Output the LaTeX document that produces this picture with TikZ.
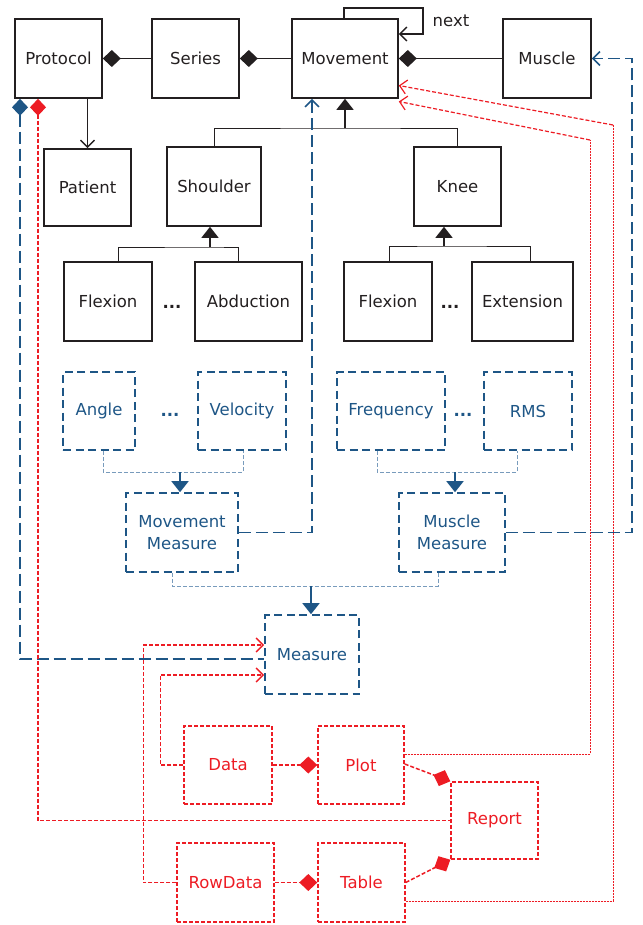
\documentclass[tikz,border=0pt]{standalone}
\usepackage{fontspec}
\setmainfont{DejaVu Sans}
\usetikzlibrary{arrows.meta}

\definecolor{umlblack}{RGB}{35,31,32}
\definecolor{measblue}{RGB}{30,86,134}
\definecolor{lightblue}{RGB}{120,155,188}
\definecolor{repred}{RGB}{237,28,36}

\tikzset{
  cls/.style={draw=umlblack, line width=1.6pt, text=umlblack, minimum width=87pt, minimum height=79pt, inner sep=2pt,
    font=\fontsize{16.5}{22}\selectfont},
  meas/.style={draw=measblue, line width=1.6pt, dash pattern=on 8pt off 4.5pt, text=measblue, minimum width=88pt,
    minimum height=78pt, inner sep=2pt, align=center, font=\fontsize{16.5}{22}\selectfont},
  rep/.style={draw=repred, line width=1.4pt, dash pattern=on 4pt off 2pt, text=repred, minimum width=87pt,
    minimum height=78pt, inner sep=2pt, font=\fontsize{16.5}{22}\selectfont},
  agg/.style={umlblack, line width=1.4pt, {Diamond[length=18pt,width=17pt]}-},
  inh/.style={umlblack, line width=0.9pt},
  inhtip/.style={umlblack, line width=1.4pt, -{Triangle[length=11pt,width=17pt]}},
  open/.style={-{Straight Barb[length=7pt,width=14pt]}},
  mlink/.style={measblue, line width=1.6pt, dash pattern=on 12pt off 5pt},
  mgroup/.style={lightblue, line width=1pt, dash pattern=on 4pt off 2pt},
  mtip/.style={measblue, line width=1.6pt, -{Triangle[length=11pt,width=17pt]}},
  rlink/.style={repred, line width=1.5pt, dash pattern=on 4pt off 2pt},
  tlink/.style={repred, line width=0.8pt, dash pattern=on 2pt off 1pt},
  dotsnode/.style={font=\fontsize{16.5}{22}\selectfont\bfseries, inner sep=0pt}
}

\begin{document}
\begin{tikzpicture}[x=1pt, y=-1pt]
    \useasboundingbox (0,0) rectangle (642,925);

    % Klassen bovenaan
    \node[cls] (Protocol) at (58.5,58.5) {Protocol};
    \node[cls] (Series) at (195.5,58.5) {Series};
    \node[cls, minimum width=106pt] (Movement) at (345,58.5) {Movement};
    \node[cls, minimum width=88pt] (Muscle) at (547,58.5) {Muscle};
    \node[cls, minimum height=77pt] (Patient) at (87.5,187.5) {Patient};
    \node[cls, minimum width=94pt] (Shoulder) at (214,186.5) {Shoulder};
    \node[cls] (Knee) at (457.5,186.5) {Knee};

    % Bewegingen
    \node[cls, minimum width=88pt] (FlexS) at (108,301.5) {Flexion};
    \node[cls, minimum width=107pt] (Abduction) at (248.5,301.5) {Abduction};
    \node[cls, minimum width=88pt] (FlexK) at (388,301.5) {Flexion};
    \node[cls, minimum width=101pt] (Extension) at (522.5,301.5) {Extension};
    \node[dotsnode, text=umlblack] (dotsS) at (172,307) {...};
    \node[dotsnode, text=umlblack] (dotsK) at (450,307) {...};

    % Metingen (blauw)
    \node[meas, minimum width=72pt] (Angle) at (99,411) {Angle};
    \node[meas] (Velocity) at (242,411) {Velocity};
    \node[meas, minimum width=108pt] (Frequency) at (391,411) {Frequency};
    \node[meas] (RMS) at (528,411) {RMS};
    \node[dotsnode, text=measblue] (dotsA) at (170,415) {...};
    \node[dotsnode, text=measblue] (dotsF) at (463,415) {...};
    \node[meas, minimum width=112pt, minimum height=79pt] (MovMeas) at (182,532.5) {Movement\\Measure};
    \node[meas, minimum width=106pt, minimum height=79pt] (MusMeas) at (452,532.5) {Muscle\\Measure};
    \node[meas, minimum width=94pt, minimum height=79pt] (Measure) at (312,654.5) {Measure};

    % Rapportage (rood)
    \node[rep, minimum width=88pt] (Data) at (228,765) {Data};
    \node[rep, minimum width=86pt] (Plot) at (361,765) {Plot};
    \node[rep, minimum width=97pt, minimum height=79pt] (RowData) at (225.5,882.5) {RowData};
    \node[rep, minimum height=79pt] (Table) at (361.5,882.5) {Table};
    \node[rep, minimum height=77pt] (Report) at (494.5,820.5) {Report};

    % Aggregaties bovenaan
    \draw[agg] (Protocol.east) -- (Series.west);
    \draw[agg] (Series.east) -- (Movement.west);
    \draw[agg] (Movement.east) -- (Muscle.west);
    \draw[umlblack, line width=1.4pt, open] (Protocol.south -| Patient.north) -- (Patient.north);

    % next (zelfverwijzing)
    \draw[umlblack, line width=1.4pt, open] ([xshift=-1pt]Movement.north) -- ++(0,-10) -| (423,34)
        -- ([yshift=24.5pt]Movement.east);
    \node[text=umlblack, font=\fontsize{16.5}{22}\selectfont] (nextlbl) at (451,21) {next};

    % Overerving
    \coordinate (jMov) at (345,128);
    \draw[inh] (Shoulder.north) |- (jMov) -| (Knee.north);
    \draw[inhtip] (jMov) -- (Movement.south);

    \coordinate (jSh) at (210,247);
    \draw[inh] ([xshift=10pt]FlexS.north) |- (jSh) -| ([xshift=-10.5pt]Abduction.north);
    \draw[inhtip] (jSh) -- ([xshift=-4pt]Shoulder.south);

    \coordinate (jKn) at (444,246);
    \draw[inh] ([xshift=1pt]FlexK.north) |- (jKn) -| ([xshift=7.5pt]Extension.north);
    \draw[inhtip] (jKn) -- ([xshift=-13.5pt]Knee.south);

    % Meetgroepen
    \coordinate (jAng) at (180,472);
    \draw[mgroup] ([xshift=4pt]Angle.south) |- (jAng) -| ([xshift=1pt]Velocity.south);
    \draw[mtip] (jAng) -- ([xshift=-2pt]MovMeas.north);

    \coordinate (jFr) at (455,472);
    \draw[mgroup] ([xshift=-14pt]Frequency.south) |- (jFr) -| ([xshift=-11pt]RMS.south);
    \draw[mtip] (jFr) -- ([xshift=3pt]MusMeas.north);

    \coordinate (jMeas) at (311,586);
    \draw[mgroup] ([xshift=-10pt]MovMeas.south) |- (jMeas) -| ([xshift=-14pt]MusMeas.south);
    \draw[mtip] (jMeas) -- ([xshift=-1pt]Measure.north);

    % Verwijzingen naar Movement en Muscle
    \draw[mlink, open] (MovMeas.east) -| ([xshift=-33pt]Movement.south);
    \draw[mlink, open] (MusMeas.east) -- ++(126,0) |- (Muscle.east);
    \draw[mlink, {Diamond[length=17pt,width=16pt]}-] ([xshift=-38.5pt]Protocol.south) |- ([yshift=-4.5pt]Measure.west);

    % Rapport
    \draw[rlink, {Diamond[length=17pt,width=16pt]}-] ([xshift=-20.5pt]Protocol.south) |- (Report.west);
    \draw[rlink, -{Diamond[length=18pt,width=17pt]}] (Data.east) -- (Plot.west);
    \draw[rlink, -{Diamond[length=18pt,width=17pt]}] (RowData.east) -- (Table.west);
    \draw[rlink, -{Diamond[length=18pt,width=17pt]}] ([yshift=1pt]Plot.east) -- (Report.north west);
    \draw[rlink, -{Diamond[length=18pt,width=17pt]}] (Table.east) -- (Report.south west);
    \draw[rlink, open] (Data.west) -- ++(-23,0) |- ([yshift=-20.5pt]Measure.west);
    \draw[rlink, open] (RowData.west) -- ++(-33,0) |- ([yshift=9.5pt]Measure.west);

    % Plot en Table naar Movement
    \coordinate (bendP) at (590,140);
    \coordinate (bendT) at (613,125);
    \draw[tlink] ([yshift=11pt]Plot.east) -| (bendP);
    \draw[rlink, line width=1.2pt, open] (bendP) -- ([yshift=-43pt]Movement.east);
    \draw[tlink] ([yshift=-18.5pt]Table.east) -| (bendT);
    \draw[rlink, line width=1.2pt, open] (bendT) -- ([yshift=-27pt]Movement.east);

\end{tikzpicture}
\end{document}
